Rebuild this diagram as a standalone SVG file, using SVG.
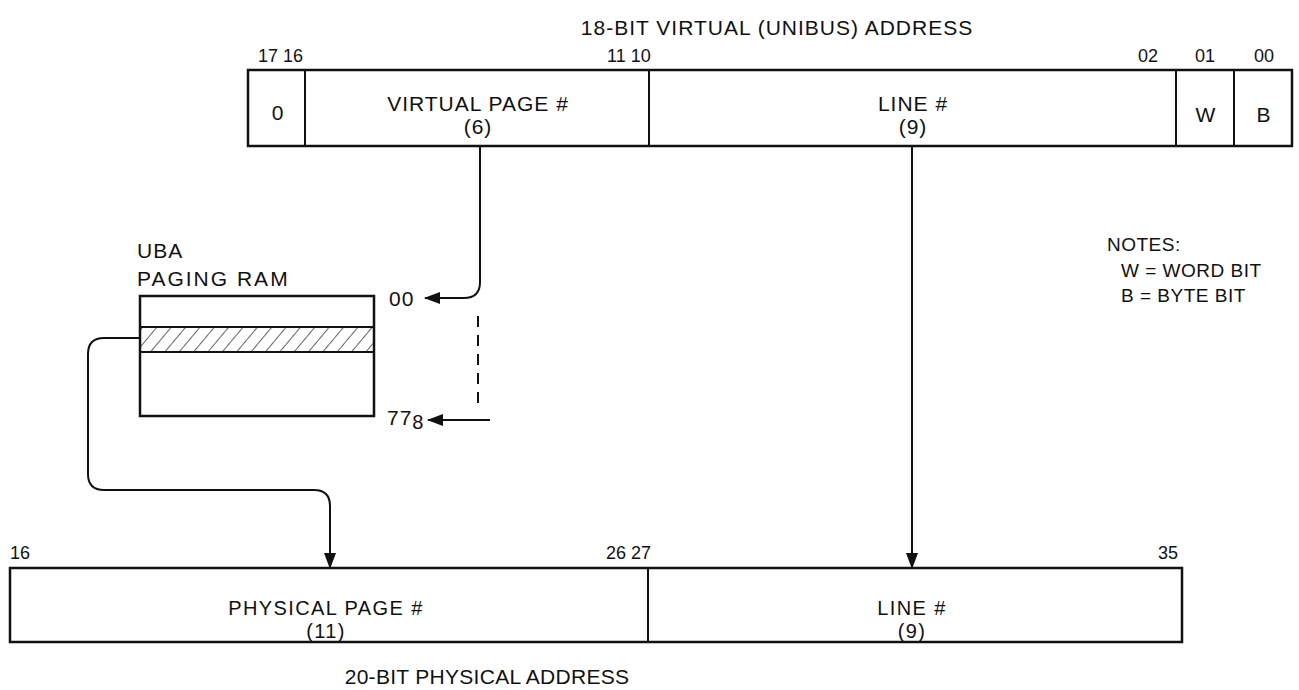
<svg xmlns="http://www.w3.org/2000/svg" width="1299" height="690" viewBox="0 0 1299 690">
<style>
text{font-family:"Liberation Sans",Arial,sans-serif;font-size:21px;letter-spacing:1px;fill:#111}
.c{text-anchor:middle}
.bit{font-size:18px;letter-spacing:0}
.note{font-size:19px;letter-spacing:0.5px}
.lo{font-size:20px;letter-spacing:1.4px}
.box{fill:none;stroke:#111;stroke-width:2.5}
.div{stroke:#111;stroke-width:2}
.ln{fill:none;stroke:#111;stroke-width:2}
</style>
<defs>
<marker id="ah" markerUnits="userSpaceOnUse" markerWidth="16" markerHeight="12" refX="15" refY="6" orient="auto">
<path d="M0,0 L16,6 L0,12 Z" fill="#111"/>
</marker>
<pattern id="hatch" patternUnits="userSpaceOnUse" width="11" height="11" patternTransform="rotate(40)">
<line x1="0" y1="0" x2="0" y2="11" stroke="#111" stroke-width="1.3"/>
</pattern>
</defs>
<rect width="1299" height="690" fill="#fff"/>

<text class="c" x="777" y="35">18-BIT VIRTUAL (UNIBUS) ADDRESS</text>

<g id="virtual-address">
<rect class="box" x="248" y="70" width="1044" height="76"/>
<line class="div" x1="305" y1="70" x2="305" y2="146"/>
<line class="div" x1="649" y1="70" x2="649" y2="146"/>
<line class="div" x1="1176" y1="70" x2="1176" y2="146"/>
<line class="div" x1="1234" y1="70" x2="1234" y2="146"/>
<text class="bit" x="258" y="62">17 16</text>
<text class="bit" x="607" y="62">11 10</text>
<text class="bit c" x="1148" y="62">02</text>
<text class="bit c" x="1205" y="62">01</text>
<text class="bit c" x="1264" y="62">00</text>
<text class="c" x="278" y="120">0</text>
<text class="c" x="478" y="111">VIRTUAL PAGE #</text>
<text class="c" x="478" y="134">(6)</text>
<text class="c" x="913" y="111">LINE #</text>
<text class="c" x="913" y="134">(9)</text>
<text class="c" x="1206" y="122">W</text>
<text class="c" x="1264" y="122">B</text>
</g>

<g id="paging-ram">
<text x="137" y="258">UBA</text>
<text x="137" y="286" style="letter-spacing:2px">PAGING RAM</text>
<rect x="140" y="327" width="234" height="25" fill="url(#hatch)"/>
<rect class="box" x="140" y="296" width="234" height="120"/>
<line class="div" x1="140" y1="327" x2="374" y2="327"/>
<line class="div" x1="140" y1="352" x2="374" y2="352"/>
<text x="389" y="306">00</text>
<text x="387" y="425">77<tspan font-size="20" dy="4">8</tspan></text>
</g>

<g id="notes">
<text class="note" x="1107" y="251">NOTES:</text>
<text class="note" x="1121" y="277">W = WORD BIT</text>
<text class="note" x="1121" y="302">B  = BYTE BIT</text>
</g>

<g id="physical-address">
<rect class="box" x="10" y="568" width="1172" height="74"/>
<line class="div" x1="648" y1="568" x2="648" y2="642"/>
<text class="bit" x="10" y="559">16</text>
<text class="bit" x="606" y="559">26 27</text>
<text class="bit c" x="1168" y="559">35</text>
<text class="c lo" x="326" y="615">PHYSICAL PAGE #</text>
<text class="c lo" x="326" y="638">(11)</text>
<text class="c lo" x="912" y="615">LINE #</text>
<text class="c lo" x="912" y="638">(9)</text>
<text class="c" x="487" y="684" style="letter-spacing:0.3px">20-BIT PHYSICAL ADDRESS</text>
</g>

<g id="connectors">
<path class="ln" d="M480,146 V282 Q480,298 464,298 H425" marker-end="url(#ah)"/>
<line class="ln" x1="478" y1="316" x2="478" y2="406" stroke-dasharray="11,8"/>
<line class="ln" x1="490" y1="420" x2="428" y2="420" marker-end="url(#ah)"/>
<line class="ln" x1="912" y1="146" x2="912" y2="568" marker-end="url(#ah)"/>
<path class="ln" d="M140,338 H104 Q88,338 88,354 V474 Q88,490 104,490 H314 Q330,490 330,506 V568" marker-end="url(#ah)"/>
</g>
</svg>
